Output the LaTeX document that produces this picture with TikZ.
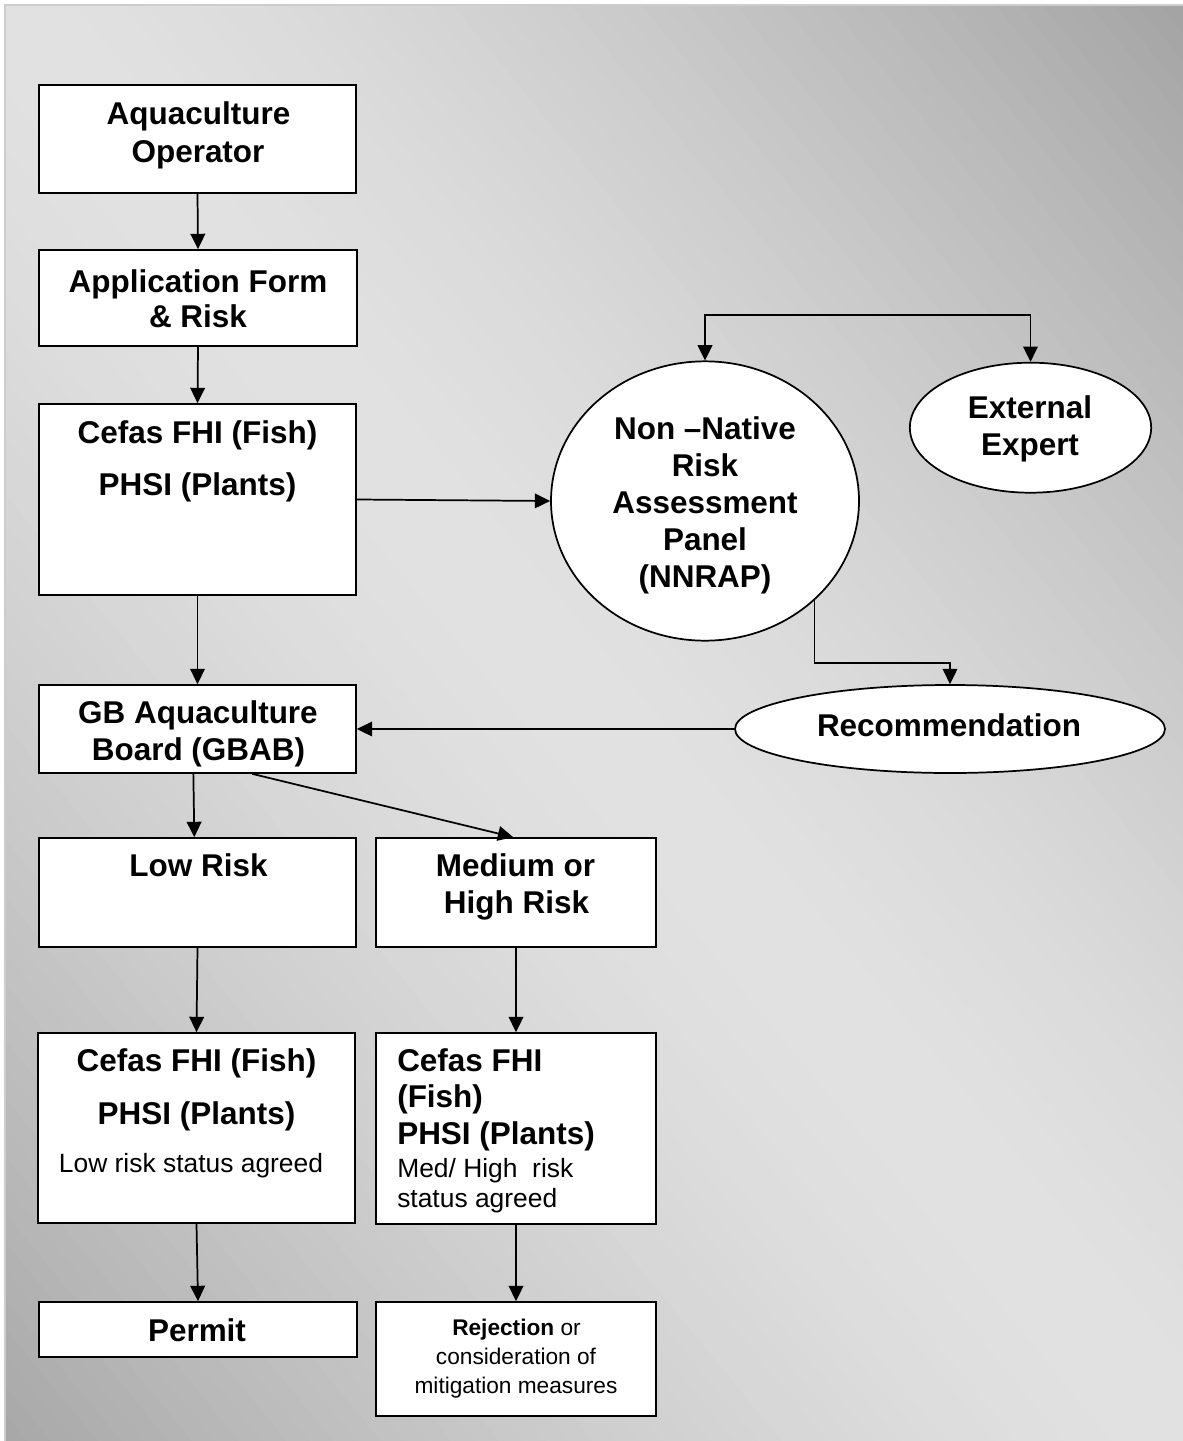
\documentclass[tikz,border=0pt]{standalone}
\usepackage{fontspec}
\setmainfont{Liberation Sans}
\usetikzlibrary{arrows.meta,shapes.geometric,fit,calc}
\definecolor{bgedge}{RGB}{205,205,205}
\begin{document}
\begin{tikzpicture}[x=0.75pt,y=-0.75pt,
  box/.style={draw=black, fill=white, line width=1.3pt, rectangle, inner sep=0pt},
  oval/.style={draw=black, fill=white, line width=1.3pt, ellipse, inner sep=0pt},
  big/.style={font=\fontsize{23.6}{28}\selectfont\bfseries, inner sep=0pt, anchor=base},
  small/.style={font=\fontsize{19.8}{24}\selectfont, inner sep=0pt, anchor=base},
  tiny/.style={font=\fontsize{17}{21}\selectfont, inner sep=0pt, anchor=base},
  arr/.style={line width=1.3pt, -{Triangle[length=11.5pt,width=11pt]}},
  dblarr/.style={line width=1.3pt, {Triangle[length=11.5pt,width=11pt]}-{Triangle[length=11.5pt,width=11pt]}}]
\useasboundingbox (0,0) rectangle (1182,1441);
% background: diagonal reflected gradient drawn as strips
\begin{scope}[shift={(5,5)}, xscale=1179, yscale=1438]
  \clip (0,0) rectangle (1,1);
  \foreach \i in {-50,...,49} {
    \pgfmathsetmacro{\sa}{\i/50}
    \pgfmathsetmacro{\sb}{(\i+1)/50+0.004}
    \pgfmathsetmacro{\sm}{abs((\i+0.5)/50)}
    \pgfmathtruncatemacro{\cv}{\i<0 ? 226-58*(\sm^1.5) : 226-62*(\sm^1.5)}
    \fill[fill={rgb,255:red,\cv;green,\cv;blue,\cv}]
      (\sa-1.2,-1.2) -- (\sa+2.2,2.2) -- (\sb+2.2,2.2) -- (\sb-1.2,-1.2) -- cycle;
  }
\end{scope}
\draw[bgedge, line width=1.5pt] (5,1443) -- (5,5) -- (1184,5);

% boxes
\node[box, fit={(39,85) (356,193)}] (op) {};
\node[box, fit={(39,250) (357,346)}] (app) {};
\node[box, fit={(39,404) (356,595)}] (cefas) {};
\node[box, fit={(39,685) (356,773)}] (gb) {};
\node[box, fit={(39,838) (356,947)}] (low) {};
\node[box, fit={(376,838) (656,947)}] (med) {};
\node[box, fit={(38,1033) (355,1223)}] (cbl) {};
\node[box, fit={(376,1033) (656,1224)}] (cbr) {};
\node[box, fit={(39,1302) (357,1357)}] (permit) {};
\node[box, fit={(376,1302) (656,1416)}] (rej) {};

% ellipses
\node[oval, minimum width=231pt, minimum height=209.5pt] (nnrap) at (705,501) {};
\node[oval, minimum width=181pt, minimum height=97.5pt] (expert) at (1030.5,427.7) {};
\node[oval, minimum width=322.5pt, minimum height=66pt] (rec) at (950,729) {};

% texts
\node[big] (top1) at (198.5,125) {Aquaculture};
\node[big] (top2) at (198,162) {Operator};
\node[big] (tap1) at (198,292) {Application Form};
\node[big] (tap2) at (198,327) {\& Risk};
\node[big] (tcf1) at (197.5,443.5) {Cefas FHI (Fish)};
\node[big] (tcf2) at (197.5,495.5) {PHSI (Plants)};
\node[big] (tnn1) at (705,439) {Non –Native};
\node[big] (tnn2) at (705,476.5) {Risk};
\node[big] (tnn3) at (705,513) {Assessment};
\node[big] (tnn4) at (705,550) {Panel};
\node[big] (tnn5) at (705,587) {(NNRAP)};
\node[big] (tex1) at (1030,418.5) {External};
\node[big] (tex2) at (1030,455) {Expert};
\node[big] (trec) at (949,736) {Recommendation};
\node[big] (tgb1) at (198,723) {GB Aquaculture};
\node[big] (tgb2) at (198.5,760) {Board (GBAB)};
\node[big] (tlow) at (198.5,876) {Low Risk};
\node[big] (tmed1) at (515.5,876) {Medium or};
\node[big] (tmed2) at (516.5,913) {High Risk};
\node[big] (tcbl1) at (196.5,1071) {Cefas FHI (Fish)};
\node[big] (tcbl2) at (196.5,1124) {PHSI (Plants)};
\node[small] (tcbl3) at (191,1172) {Low risk status agreed};
\node[big, anchor=base west] (tcbr1) at (397,1071) {Cefas FHI};
\node[big, anchor=base west] (tcbr2) at (397,1107.5) {(Fish)};
\node[big, anchor=base west] (tcbr3) at (397,1144) {PHSI (Plants)};
\node[small, anchor=base west] (tcbr4) at (397,1177.5) {Med/ High\ \ risk};
\node[small, anchor=base west] (tcbr5) at (397,1207.5) {status agreed};
\node[big] (tperm) at (197,1341) {Permit};
\node[tiny] (trej1) at (516.5,1335) {\textbf{Rejection} or};
\node[tiny] (trej2) at (516,1364) {consideration of};
\node[tiny] (trej3) at (516,1393) {mitigation measures};

% connectors
\coordinate (tb) at (705,315);
\coordinate (bend) at (880,663);
\draw[arr] (op.south) -- (app.north);
\draw[arr] (app.south) -- (cefas.north);
\draw[arr] (cefas.east) -- (nnrap.west);
\draw[dblarr] (nnrap.north) -- (tb) -| (expert.north);
\draw[arr] (nnrap.south east) |- (bend) -| (rec.north);
\draw[arr] (cefas.south) -- (gb.north);
\draw[arr] (rec.west) -- (gb.east);
\draw[arr] ($(gb.south west)!0.487!(gb.south east)$) -- ($(low.north west)!0.49!(low.north east)$);
\draw[arr] ($(gb.south west)!0.672!(gb.south east)$) -- ($(med.north west)!0.49!(med.north east)$);
\draw[arr] (low.south) -- (cbl.north);
\draw[arr] (med.south) -- (cbr.north);
\draw[arr] (cbl.south) -- (permit.north);
\draw[arr] (cbr.south) -- (rej.north);
\end{tikzpicture}
\end{document}
